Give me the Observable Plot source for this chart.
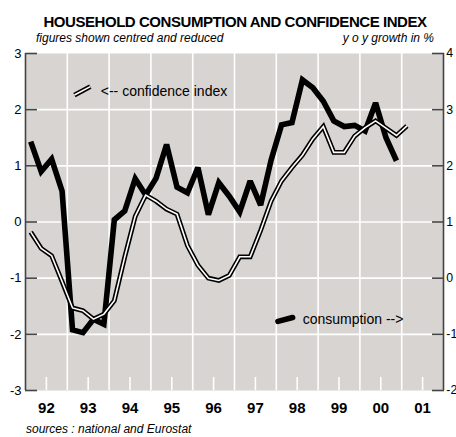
<!DOCTYPE html>
<html><head><meta charset="utf-8">
<script src="https://cdn.jsdelivr.net/npm/d3@7"></script>
<script src="https://cdn.jsdelivr.net/npm/@observablehq/plot@0.6"></script>
<style>
body{margin:0;background:#fff;width:456px;height:437px;position:relative;overflow:hidden;font-family:"Liberation Sans",Arial,sans-serif;color:#000;}
.t{position:absolute;white-space:nowrap;}
#title{left:0;width:470px;top:14px;text-align:center;font-weight:bold;font-size:15px;line-height:15px;letter-spacing:-0.45px;}
#sub1{left:36px;top:32px;font-style:italic;font-size:12px;line-height:12px;}
#sub2{right:22px;top:32px;font-style:italic;font-size:12px;line-height:12px;}
#src{left:26px;top:423px;font-style:italic;font-size:12px;line-height:12px;}
#chart{position:absolute;left:0;top:40px;}
</style></head><body>
<div class="t" id="title">HOUSEHOLD CONSUMPTION AND CONFIDENCE INDEX</div>
<div class="t" id="sub1">figures shown centred and reduced</div>
<div class="t" id="sub2">y o y growth in %</div>
<div id="chart"></div>
<div class="t" id="src">sources : national and Eurostat</div>
<script>
// ---- data ----
const quarters = [
  "1992Q1","1992Q2","1992Q3","1992Q4","1993Q1","1993Q2","1993Q3","1993Q4",
  "1994Q1","1994Q2","1994Q3","1994Q4","1995Q1","1995Q2","1995Q3","1995Q4",
  "1996Q1","1996Q2","1996Q3","1996Q4","1997Q1","1997Q2","1997Q3","1997Q4",
  "1998Q1","1998Q2","1998Q3","1998Q4","1999Q1","1999Q2","1999Q3","1999Q4",
  "2000Q1","2000Q2","2000Q3","2000Q4","2001Q1"
];
// household consumption, y o y growth in % (right axis)
const consumptionGrowth = [
  2.43, 1.90, 2.12, 1.55, -0.92, -0.97, -0.73, -0.82,
  1.04, 1.20, 1.77, 1.48, 1.78, 2.38, 1.62, 1.52,
  1.97, 1.13, 1.70, 1.46, 1.18, 1.73, 1.30, 2.10,
  2.73, 2.77, 3.53, 3.39, 3.15, 2.80, 2.70, 2.72,
  2.62, 3.12, 2.50, 2.09
];
// confidence index, centred and reduced (left axis)
const confidenceIndex = [
  -0.18, -0.47, -0.60, -1.06, -1.53, -1.58, -1.73, -1.64,
  -1.40, -0.62, 0.10, 0.48, 0.37, 0.23, 0.14, -0.42,
  -0.77, -1.00, -1.04, -0.95, -0.62, -0.62, -0.15, 0.37,
  0.73, 0.97, 1.19, 1.48, 1.70, 1.24, 1.24, 1.53,
  1.68, 1.80, 1.67, 1.54, 1.71
];
const yearLabels = ["92","93","94","95","96","97","98","99","00","01"];
const leftTicks = [-3,-2,-1,0,1,2,3];
const rightTicks = [-2,-1,0,1,2,3,4];
const annotations = [
  {text:"<-- confidence index", x:1993.80, y:2.33},
  {text:"consumption -->", x:1998.63, y:-1.73}
];
const confSample = [{x:1993.17,y:2.26},{x:1993.55,y:2.41}];
const consSample = [{x:1998.04,y:-1.77},{x:1998.39,y:-1.70}];

// ---- derived ----
const firstYear = 1992;
const qx = q => +q.slice(0,4) + (+q.slice(5) - 0.5) / 4;
const offset = rightTicks[0] - leftTicks[0];
const cons = consumptionGrowth.map((v,i) => ({x: qx(quarters[i]), y: v - offset}));
const conf = confidenceIndex.map((v,i) => ({x: qx(quarters[i]), y: v}));
const xDomain = [firstYear, firstYear + yearLabels.length];
const yearStarts = yearLabels.slice(1).map((d,i) => firstYear + i + 1);
const midYears = yearLabels.map((d,i) => firstYear + i + 0.5);
const narrow = "'Liberation Sans Narrow','Arial Narrow','Liberation Sans',sans-serif";

const chart = Plot.plot({
  width: 456, height: 385,
  marginTop: 13, marginBottom: 35, marginLeft: 25, marginRight: 13,
  x: {domain: xDomain},
  y: {domain: [leftTicks[0], leftTicks[leftTicks.length-1]]},
  style: {fontFamily: "'Liberation Sans',Arial,sans-serif", background: "transparent", color: "#000"},
  marks: [
    Plot.frame({fill: "#d7d4d1", stroke: null}),
    Plot.ruleY(leftTicks.slice(1,-1), {stroke: "white", strokeWidth: 1.6}),
    Plot.ruleX(yearStarts, {stroke: "white", strokeWidth: 1.6}),
    Plot.axisX(midYears, {tickSize: -13, stroke: "white", strokeWidth: 1.6, tickFormat: () => "", label: null}),
    Plot.axisX(midYears, {tickSize: 0, tickPadding: 12, tickFormat: d => yearLabels[Math.round(d - firstYear - 0.5)],
      fontWeight: "bold", fontSize: 15, fontFamily: narrow, label: null}),
    Plot.ruleX(xDomain, {stroke: "#444", strokeWidth: 1.6}),
    Plot.axisY(leftTicks, {anchor: "left", tickSize: -12, tickPadding: 16, stroke: "#444", strokeWidth: 1.6,
      tickFormat: d => String(d), fontSize: 13, fontFamily: narrow, label: null}),
    Plot.axisY(leftTicks, {anchor: "right", tickSize: -12, tickPadding: 14.8, stroke: "#444", strokeWidth: 1.6,
      tickFormat: d => String(d + offset), fontSize: 12.3, fontFamily: narrow, label: null}),
    Plot.line(cons, {x: "x", y: "y", stroke: "#000", strokeWidth: 5.6, strokeLinejoin: "miter", strokeMiterlimit: 2.5, strokeLinecap: "butt"}),
    Plot.line(conf, {x: "x", y: "y", stroke: "#000", strokeWidth: 4.8, strokeLinejoin: "miter", strokeMiterlimit: 2.5, strokeLinecap: "butt"}),
    Plot.line(conf, {x: "x", y: "y", stroke: "#fff", strokeWidth: 1.6, strokeLinejoin: "miter", strokeMiterlimit: 2.5, strokeLinecap: "butt"}),
    Plot.line(confSample, {x: "x", y: "y", stroke: "#000", strokeWidth: 4.8, strokeLinecap: "butt"}),
    Plot.line(confSample, {x: "x", y: "y", stroke: "#fff", strokeWidth: 1.6, strokeLinecap: "butt"}),
    Plot.line(consSample, {x: "x", y: "y", stroke: "#000", strokeWidth: 5.6, strokeLinecap: "round"}),
    Plot.text(annotations, {x: "x", y: "y", text: "text", textAnchor: "start", fontSize: 14, fill: "#000"})
  ]
});
document.getElementById("chart").appendChild(chart);
</script>
</body></html>
